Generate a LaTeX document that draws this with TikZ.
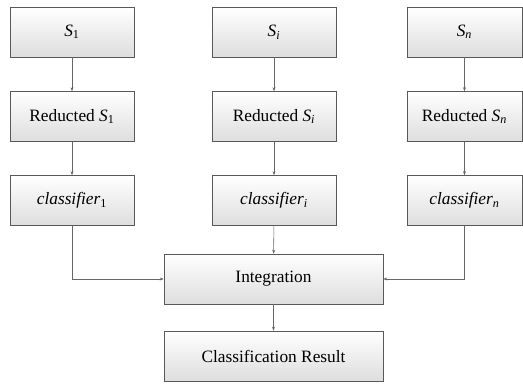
\documentclass[tikz,border=0pt]{standalone}
\usepackage{fontspec}
\setmainfont{Liberation Serif}
\usetikzlibrary{arrows.meta}
\usetikzlibrary{positioning}

\begin{document}
\begin{tikzpicture}[x=0.75pt,y=-0.75pt]
        \useasboundingbox (0,0) rectangle (523,383);
        \begin{scope}[every node/.style={rectangle,draw=black!65,thin,
            top color=white,bottom color=black!13,
            minimum width=93pt,minimum height=37.5pt,inner sep=0pt,
            font=\fontsize{13}{15}\selectfont}]
            \node (s1) at (72,32) {\textit{S}\textsubscript{1}};
            \node (si) at (274,32) {\textit{S\textsubscript{i}}};
            \node[minimum width=86.25pt] (sn) at (464.5,32) {\textit{S\textsubscript{n}}};
            \node (r1) at (72,116.5) {Reducted \textit{S}\textsubscript{1}};
            \node (ri) at (274,116.5) {Reducted \textit{S\textsubscript{i}}};
            \node[minimum width=86.25pt] (rn) at (464.5,116.5) {Reducted \textit{S\textsubscript{n}}};
            \node (c1) at (72,200.5) {\textit{classifier}\textsubscript{1}};
            \node (ci) at (274,200.5) {\textit{classifier\textsubscript{i}}};
            \node[minimum width=86.25pt] (cn) at (464.5,200.5) {\textit{classifier\textsubscript{n}}};
            \node[minimum width=164.25pt] (int) at (273.5,279) {Integration};
            \node[minimum width=164.25pt] (res) at (273.5,356) {Classification Result};
        \end{scope}
        \begin{scope}[>={Stealth[length=3pt,width=2.2pt]},
            every edge/.style={draw=black!60,thin}]
            \path [->] (s1) edge (r1);
            \path [->] (si) edge (ri);
            \path [->] (sn) edge (rn);
            \path [->] (r1) edge (c1);
            \path [->] (ri) edge (ci);
            \path [->] (rn) edge (cn);
            \path [->] (ci) edge (int);
            \path [->] (int) edge (res);
            \draw [->,black!60,thin] (c1) |- (int);
            \draw [->,black!60,thin] (cn) |- (int);
        \end{scope}
    \end{tikzpicture}
\end{document}
